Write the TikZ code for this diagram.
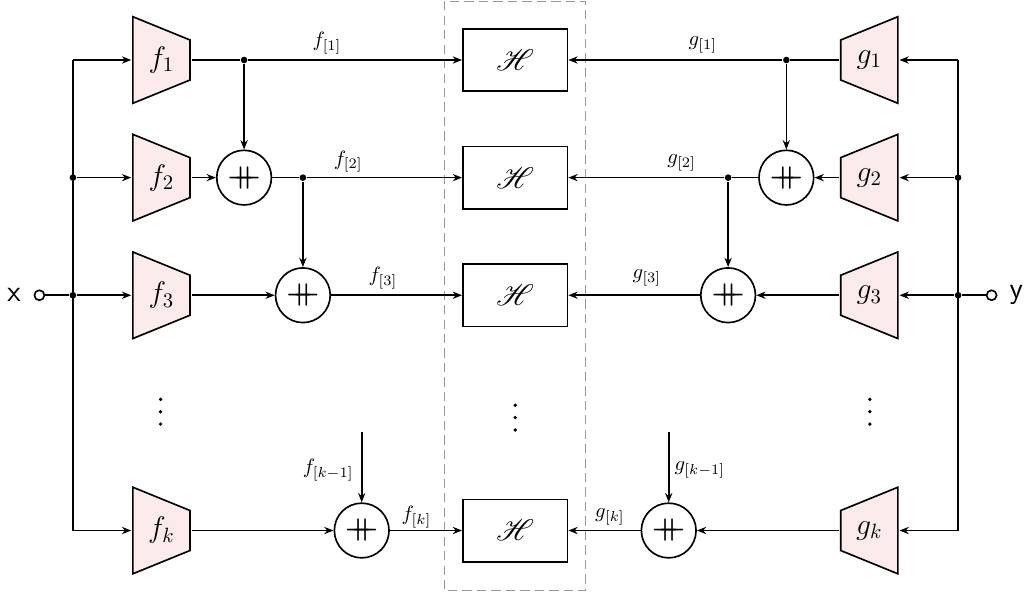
\documentclass[tikz,border=0pt]{standalone}
\usepackage{amsmath}
\usepackage{mathrsfs}
\usetikzlibrary{arrows.meta}
\definecolor{trapfill}{RGB}{251,235,235}
\newcommand{\catop}{$+\mkern-10mu+$}

\begin{document}
\begin{tikzpicture}[>={Stealth[length=4.5pt,width=3.5pt]}, line width=0.8pt,
  enc/.style={minimum width=1cm, minimum height=1.5cm, inner sep=0pt, font=\Large},
  encf/.style={enc, path picture={\draw[fill=trapfill]
      ([shift={(0.4pt,-0.4pt)}]path picture bounding box.north west)
      -- ([shift={(-0.4pt,-0.41cm)}]path picture bounding box.north east)
      -- ([shift={(-0.4pt,0.41cm)}]path picture bounding box.south east)
      -- ([shift={(0.4pt,0.4pt)}]path picture bounding box.south west) -- cycle;}},
  encg/.style={enc, path picture={\draw[fill=trapfill]
      ([shift={(-0.4pt,-0.4pt)}]path picture bounding box.north east)
      -- ([shift={(0.4pt,-0.41cm)}]path picture bounding box.north west)
      -- ([shift={(0.4pt,0.41cm)}]path picture bounding box.south west)
      -- ([shift={(-0.4pt,0.4pt)}]path picture bounding box.south east) -- cycle;}},
  cat/.style={draw, circle, minimum size=0.93cm, inner sep=0pt, font=\Large\boldmath},
  hbox/.style={draw, rectangle, minimum width=1.78cm, minimum height=1.06cm, font=\Large},
  dot/.style={circle, fill, inner sep=0pt, minimum size=3.2pt},
  port/.style={draw, circle, fill=white, inner sep=0pt, minimum size=0.17cm},
  lab/.style={inner sep=0pt}]
\useasboundingbox (0,1.02) rectangle (17.53,-9.04);

% shared block in the middle
\draw[black!40, line width=0.5pt, dash pattern=on 4.5pt off 2.5pt] (7.55,1.0) rectangle (9.96,-9.02);
\node (h1)[hbox] at (8.76,0)  {$\mathscr{H}$};
\node (h2)[hbox] at (8.76,-2) {$\mathscr{H}$};
\node (h3)[hbox] at (8.76,-4) {$\mathscr{H}$};
\node (hk)[hbox] at (8.76,-8) {$\mathscr{H}$};

% left branch
\node (xlab) at (0.24,-4) {\Large\sffamily x};
\node (xin)[port] at (0.67,-4) {};
\coordinate (b1) at (1.24,0);
\node (b2)[dot] at (1.24,-2) {};
\node (b3)[dot] at (1.24,-4) {};
\coordinate (bk) at (1.24,-8);
\node (f1)[encf] at (2.745,0)  {$f_1$};
\node (f2)[encf] at (2.745,-2) {$f_2$};
\node (f3)[encf] at (2.745,-4) {$f_3$};
\node (fk)[encf] at (2.745,-8) {$f_k$};
\node (d1)[dot] at (4.15,0) {};
\node (c1)[cat] at (4.15,-2) {\catop};
\node (d2)[dot] at (5.15,-2) {};
\node (c2)[cat] at (5.15,-4) {\catop};
\node (ck)[cat] at (6.15,-8) {\catop};
\coordinate (fin) at (6.15,-6.32);

\draw (xin) -- (b3);
\draw (b1) -- (bk);
\draw[->] (b1) -- (f1);
\draw[->] (b2) -- (f2);
\draw[->] (b3) -- (f3);
\draw[->] (bk) -- (fk);
\draw (f1) -- (d1);
\draw[->] (d1) -- (h1);
\draw[->] (d1) -- (c1);
\draw[->] (f2) -- (c1);
\draw (c1) -- (d2);
\draw[->] (d2) -- (h2);
\draw[->] (d2) -- (c2);
\draw[->] (f3) -- (c2);
\draw[->] (c2) -- (h3);
\draw[->] (fk) -- (ck);
\draw[->] (ck) -- (hk);
\draw[->] (fin) -- (ck);

\node (lf1)[lab] at (5.56,0.29)  {$f_{[1]}$};
\node (lf2)[lab] at (5.92,-1.73) {$f_{[2]}$};
\node (lf3)[lab] at (6.51,-3.71) {$f_{[3]}$};
\node (lfk)[lab] at (7.08,-7.77) {$f_{[k]}$};
\node (lfm)[lab] at (5.58,-6.97) {$f_{[k-1]}$};

% right branch
\node (ylab) at (17.28,-4) {\Large\sffamily y};
\node (yin)[port] at (16.86,-4) {};
\coordinate (r1) at (16.29,0);
\node (r2)[dot] at (16.29,-2) {};
\node (r3)[dot] at (16.29,-4) {};
\coordinate (rk) at (16.29,-8);
\node (g1)[encg] at (14.78,0)  {$g_1$};
\node (g2)[encg] at (14.78,-2) {$g_2$};
\node (g3)[encg] at (14.78,-4) {$g_3$};
\node (gk)[encg] at (14.78,-8) {$g_k$};
\node (e1)[dot] at (13.37,0) {};
\node (s1)[cat] at (13.37,-2) {\catop};
\node (e2)[dot] at (12.38,-2) {};
\node (s2)[cat] at (12.38,-4) {\catop};
\node (sk)[cat] at (11.37,-8) {\catop};
\coordinate (gin) at (11.37,-6.32);

\draw (yin) -- (r3);
\draw (r1) -- (rk);
\draw[->] (r1) -- (g1);
\draw[->] (r2) -- (g2);
\draw[->] (r3) -- (g3);
\draw[->] (rk) -- (gk);
\draw (g1) -- (e1);
\draw[->] (e1) -- (h1);
\draw[->] (e1) -- (s1);
\draw[->] (g2) -- (s1);
\draw (s1) -- (e2);
\draw[->] (e2) -- (h2);
\draw[->] (e2) -- (s2);
\draw[->] (g3) -- (s2);
\draw[->] (s2) -- (h3);
\draw[->] (gk) -- (sk);
\draw[->] (sk) -- (hk);
\draw[->] (gin) -- (sk);

\node (lg1)[lab] at (11.95,0.26)  {$g_{[1]}$};
\node (lg2)[lab] at (11.59,-1.75) {$g_{[2]}$};
\node (lg3)[lab] at (11.0,-3.71)  {$g_{[3]}$};
\node (lgk)[lab] at (10.37,-7.77) {$g_{[k]}$};
\node (lgm)[lab] at (11.9,-6.97)  {$g_{[k-1]}$};

% rows left out
\foreach \x/\y in {2.73/-5.98, 8.76/-6.08, 14.79/-5.98}
  \foreach \d in {0,1,2}
    \fill (\x,{\y+0.21-0.21*\d}) circle (0.9pt);
\end{tikzpicture}
\end{document}
